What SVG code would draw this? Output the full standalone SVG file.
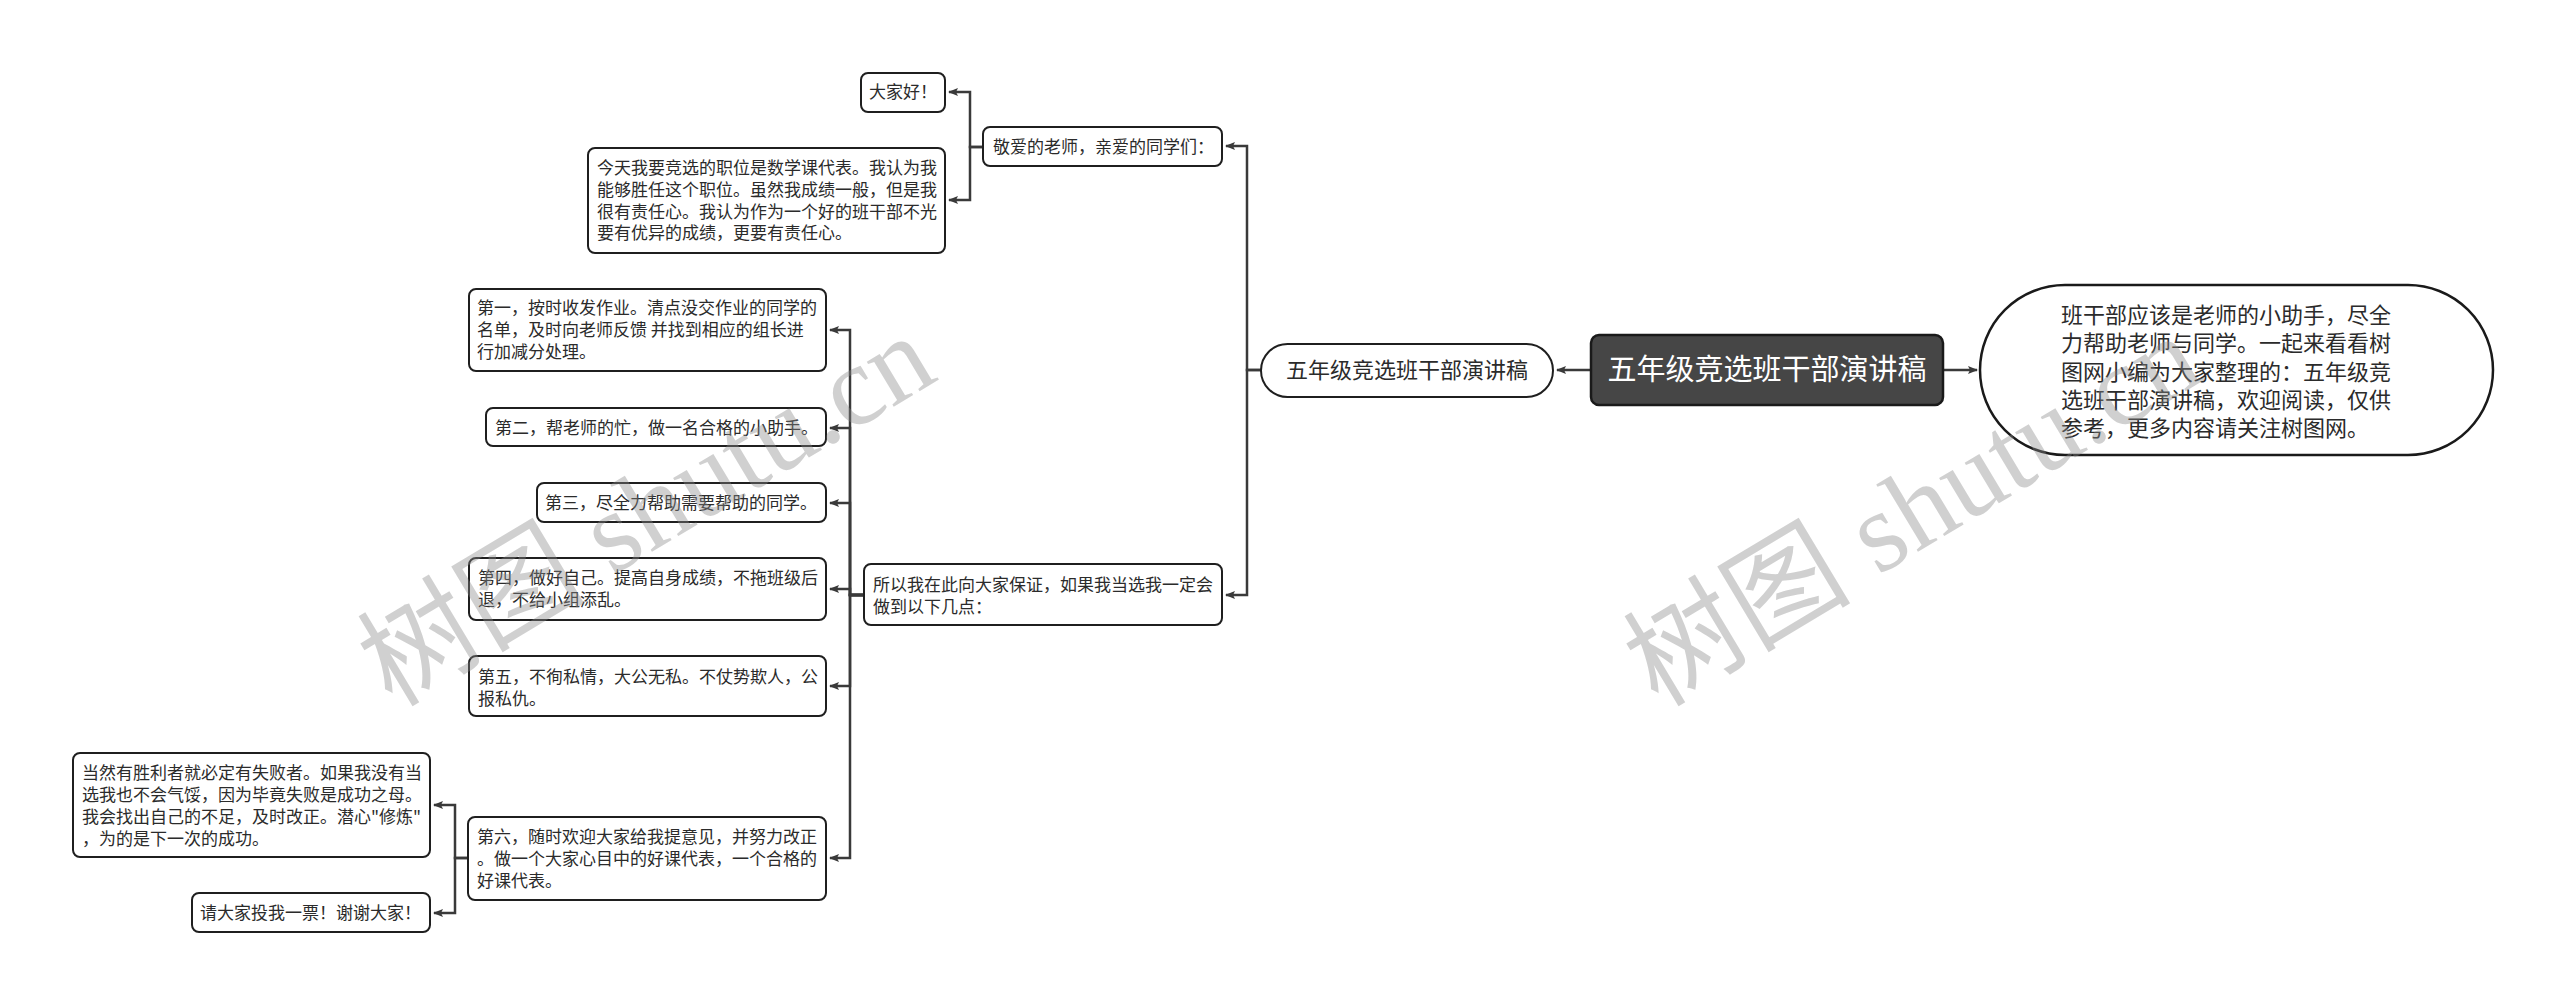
<svg xmlns="http://www.w3.org/2000/svg" width="2560" height="1005" viewBox="0 0 2560 1005">
<defs>
<style>
.n{fill:#fff;stroke:#1f1f1f;stroke-width:2}
.t{font-family:"Noto Sans CJK SC","Noto Sans",sans-serif;font-size:17px;fill:#2b2b2b}
.t22{font-family:"Noto Sans CJK SC","Noto Sans",sans-serif;font-size:22px;fill:#2b2b2b}
.c{fill:none;stroke:#3a3a3a;stroke-width:2.5}
.wm{font-family:"Liberation Serif","Noto Sans CJK SC",serif;font-size:114px;fill:#8a8a8a;fill-opacity:0.4}
</style>
<marker id="arr" viewBox="0 0 10 8" refX="9" refY="4" markerWidth="10" markerHeight="8" markerUnits="userSpaceOnUse" orient="auto">
<path d="M0,0 L10,4 L0,8 L2,4 z" fill="#3a3a3a"/>
</marker>
</defs>
<rect width="2560" height="1005" fill="#fff"/>

<g id="connectors">
<path class="c" marker-end="url(#arr)" d="M1943,370 H1977"/>
<path class="c" marker-end="url(#arr)" d="M1591,370 H1557"/>
<path class="c" marker-end="url(#arr)" d="M1261,370 H1247 V146 H1226"/>
<path class="c" marker-end="url(#arr)" d="M1261,370 H1247 V595 H1226"/>
<path class="c" marker-end="url(#arr)" d="M983,147 H970 V92 H949"/>
<path class="c" marker-end="url(#arr)" d="M983,147 H970 V200 H949"/>
<path class="c" marker-end="url(#arr)" d="M864,595 H850 V330 H830"/>
<path class="c" marker-end="url(#arr)" d="M864,595 H850 V428 H830"/>
<path class="c" marker-end="url(#arr)" d="M864,595 H850 V503 H830"/>
<path class="c" marker-end="url(#arr)" d="M864,595 H850 V589 H830"/>
<path class="c" marker-end="url(#arr)" d="M864,595 H850 V686 H830"/>
<path class="c" marker-end="url(#arr)" d="M864,595 H850 V858 H830"/>
<path class="c" marker-end="url(#arr)" d="M468,858 H455 V805 H434"/>
<path class="c" marker-end="url(#arr)" d="M468,858 H455 V913 H434"/>
</g>

<g id="root">
<rect x="1591" y="335" width="352" height="70" rx="8" fill="#464646" stroke="#1a1a1a" stroke-width="2.5"/>
<text x="1767" y="380" text-anchor="middle" font-family="&quot;Noto Sans CJK SC&quot;,sans-serif" font-size="29" fill="#fff">五年级竞选班干部演讲稿</text>
</g>

<g id="summary">
<rect x="1980" y="285" width="513" height="170" rx="85" fill="#fff" stroke="#1a1a1a" stroke-width="2.5"/>
<text class="t22" x="2061" y="323">班干部应该是老师的小助手，尽全</text>
<text class="t22" x="2061" y="351">力帮助老师与同学。一起来看看树</text>
<text class="t22" x="2061" y="380">图网小编为大家整理的：五年级竞</text>
<text class="t22" x="2061" y="408">选班干部演讲稿，欢迎阅读，仅供</text>
<text class="t22" x="2061" y="436">参考，更多内容请关注树图网。</text>
</g>

<g id="level1">
<rect class="n" x="1261" y="344" width="292" height="53" rx="26.5"/>
<text class="t22" x="1407" y="378" text-anchor="middle">五年级竞选班干部演讲稿</text>
</g>

<g id="greeting">
<rect class="n" x="983" y="127" width="239" height="39" rx="7"/>
<text class="t" x="993" y="153">敬爱的老师，亲爱的同学们：</text>
</g>

<g id="hello">
<rect class="n" x="861" y="73" width="84" height="39" rx="7"/>
<text class="t" x="869" y="98">大家好！</text>
</g>

<g id="today">
<rect class="n" x="588" y="148" width="357" height="105" rx="7"/>
<text class="t" x="597" y="174">今天我要竞选的职位是数学课代表。我认为我</text>
<text class="t" x="597" y="196">能够胜任这个职位。虽然我成绩一般，但是我</text>
<text class="t" x="597" y="218">很有责任心。我认为作为一个好的班干部不光</text>
<text class="t" x="597" y="239">要有优异的成绩，更要有责任心。</text>
</g>

<g id="promise">
<rect class="n" x="864" y="564" width="358" height="61" rx="7"/>
<text class="t" x="873" y="591">所以我在此向大家保证，如果我当选我一定会</text>
<text class="t" x="873" y="613">做到以下几点：</text>
</g>

<g id="p1">
<rect class="n" x="469" y="289" width="357" height="82" rx="7"/>
<text class="t" x="477" y="314">第一，按时收发作业。清点没交作业的同学的</text>
<text class="t" x="477" y="336">名单，及时向老师反馈 并找到相应的组长进</text>
<text class="t" x="477" y="358">行加减分处理。</text>
</g>

<g id="p2">
<rect class="n" x="486" y="408" width="340" height="38" rx="7"/>
<text class="t" x="495" y="434">第二，帮老师的忙，做一名合格的小助手。</text>
</g>

<g id="p3">
<rect class="n" x="537" y="483" width="289" height="39" rx="7"/>
<text class="t" x="545" y="509">第三，尽全力帮助需要帮助的同学。</text>
</g>

<g id="p4">
<rect class="n" x="469" y="558" width="357" height="62" rx="7"/>
<text class="t" x="478" y="584">第四，做好自己。提高自身成绩，不拖班级后</text>
<text class="t" x="478" y="606">退，不给小组添乱。</text>
</g>

<g id="p5">
<rect class="n" x="469" y="656" width="357" height="60" rx="7"/>
<text class="t" x="478" y="683">第五，不徇私情，大公无私。不仗势欺人，公</text>
<text class="t" x="478" y="705">报私仇。</text>
</g>

<g id="p6">
<rect class="n" x="468" y="817" width="358" height="83" rx="7"/>
<text class="t" x="477" y="843">第六，随时欢迎大家给我提意见，并努力改正</text>
<text class="t" x="477" y="865">。做一个大家心目中的好课代表，一个合格的</text>
<text class="t" x="477" y="887">好课代表。</text>
</g>

<g id="fail">
<rect class="n" x="73" y="753" width="357" height="104" rx="7"/>
<text class="t" x="82" y="779">当然有胜利者就必定有失败者。如果我没有当</text>
<text class="t" x="82" y="801">选我也不会气馁，因为毕竟失败是成功之母。</text>
<text class="t" x="82" y="823">我会找出自己的不足，及时改正。潜心"修炼"</text>
<text class="t" x="82" y="845">，为的是下一次的成功。</text>
</g>

<g id="vote">
<rect class="n" x="192" y="893" width="238" height="39" rx="7"/>
<text class="t" x="200" y="919">请大家投我一票！谢谢大家！</text>
</g>

<g id="watermarks">
<text class="wm" transform="translate(392,708) rotate(-31)">树图 shutu.cn</text>
<text class="wm" transform="translate(1658,708) rotate(-31)">树图 shutu.cn</text>
</g>
</svg>
